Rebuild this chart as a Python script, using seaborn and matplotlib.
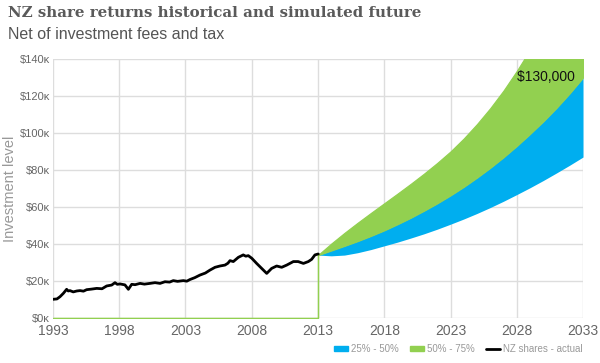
"""NZ share returns: historical line plus simulated future quartile bands."""

import matplotlib
matplotlib.use('Agg')
import matplotlib.pyplot as plt
import seaborn as sns
import pandas as pd
from matplotlib.patches import Patch
from matplotlib.lines import Line2D
from matplotlib.ticker import FuncFormatter

sns.set_style('white')
plt.rcParams['font.family'] = ['Liberation Sans', 'DejaVu Sans']

# historical values (fractional year, $k)
hist_years = [1993.0, 1993.3, 1993.53, 1993.78, 1994.03, 1994.15, 1994.28, 1994.53,
              1994.8, 1995.04, 1995.3, 1995.54, 1995.9, 1996.3, 1996.7, 1997.05,
              1997.43, 1997.68, 1997.85, 1998.06, 1998.43, 1998.69, 1998.94, 1999.2,
              1999.57, 1999.9, 2000.32, 2000.7, 2001.08, 2001.45, 2001.8, 2002.08,
              2002.4, 2002.84, 2003.1, 2003.34, 2003.7, 2004.09, 2004.5, 2004.85,
              2005.23, 2005.6, 2005.98, 2006.2, 2006.36, 2006.61, 2006.99, 2007.36,
              2007.55, 2007.74, 2008.0, 2008.37, 2008.75, 2009.13, 2009.5, 2009.88,
              2010.26, 2010.64, 2011.14, 2011.5, 2011.9, 2012.27, 2012.52, 2012.77,
              2013.02]
hist_values = [10.1, 10.3, 11.5, 13.3, 15.5, 14.6, 14.8, 14.1,
               14.6, 14.8, 14.5, 15.3, 15.6, 16.0, 15.8, 17.3,
               17.8, 19.1, 18.2, 18.4, 17.9, 15.5, 18.2, 18.0,
               18.7, 18.3, 18.7, 19.1, 18.7, 19.6, 19.4, 20.2,
               19.8, 20.2, 19.9, 20.8, 21.8, 23.2, 24.3, 25.9,
               27.4, 28.1, 28.6, 29.6, 31.0, 30.5, 32.8, 34.1,
               33.4, 33.7, 32.3, 29.5, 26.8, 24.1, 26.8, 28.1,
               27.4, 28.6, 30.5, 30.5, 29.5, 30.5, 31.7, 34.1,
               34.6]

# simulated percentiles, $k (leading zeros before the simulation starts)
sim_years = [1993, 2013, 2013, 2014, 2015, 2016, 2017, 2018, 2019, 2020, 2021,
             2022, 2023, 2024, 2025, 2026, 2027, 2028, 2029, 2030, 2031, 2032, 2033]
p25 = [0, 0, 34, 33.6, 34, 35.3, 37, 39, 41, 43.2, 45.5,
       48, 50.7, 53.5, 56.5, 59.7, 63.1, 66.7, 70.4, 74.3, 78.4, 82.6, 87]
p50 = [0, 0, 34, 36.5, 39, 41.6, 44.4, 47.4, 50.7, 54.2, 58,
       62, 66.3, 70.9, 75.9, 81.2, 86.9, 93, 99.5, 106.3, 113.6, 121.5, 130]
p75 = [0, 0, 34, 40.2, 46, 51.5, 56.8, 62, 67.2, 72.5, 78,
       83.8, 90, 97, 104.8, 113.4, 122.9, 133.5, 145, 157, 169.5, 182.5, 196]

x_ticks = [1993, 1998, 2003, 2008, 2013, 2018, 2023, 2028, 2033]
y_ticks = [0, 20, 40, 60, 80, 100, 120, 140]

BLUE = '#00aeef'
GREEN = '#92d050'
GREY = '#666666'

hist = pd.DataFrame({'year': hist_years, 'value': [v * 1000 for v in hist_values]})
sim = pd.DataFrame({'year': sim_years,
                    'p25': [v * 1000 for v in p25],
                    'p50': [v * 1000 for v in p50],
                    'p75': [v * 1000 for v in p75]})

fig = plt.figure(figsize=(6.0, 3.63), dpi=100)
ax = fig.add_axes([0.0883, 0.124, 0.8834, 0.7135])

ax.fill_between(sim['year'], sim['p25'], sim['p50'], color=BLUE, lw=0, zorder=2)
ax.fill_between(sim['year'], sim['p50'], sim['p75'], color=GREEN, lw=0.9,
                edgecolor=GREEN, zorder=2)
sns.lineplot(data=hist, x='year', y='value', color='black', lw=2.0,
             sort=False, estimator=None, ax=ax, zorder=3)

ax.text(2033, sim['p50'].iloc[-1], '${:,.0f}'.format(sim['p50'].iloc[-1]) + '  ',
        ha='right', va='center', fontsize=10, color='#111111', zorder=4)

ax.set_xlim(x_ticks[0], x_ticks[-1])
ax.set_ylim(0, y_ticks[-1] * 1000)
ax.set_xticks(x_ticks)
ax.set_yticks([t * 1000 for t in y_ticks])
ax.yaxis.set_major_formatter(FuncFormatter(lambda v, p: '${:.0f}\u1d0b'.format(v / 1000)))
ax.grid(True, color='#dddddd', lw=1.0, zorder=0)
ax.set_axisbelow(True)
for s in ax.spines.values():
    s.set_visible(False)
ax.tick_params(axis='x', colors=GREY, labelsize=10, length=0, pad=4)
ax.tick_params(axis='y', colors=GREY, labelsize=8, length=0, pad=2)
ax.set_xlabel('')
ax.set_ylabel('Investment level', color='#999999', fontsize=10.5, labelpad=2)

fig.text(0.013, 0.965, 'NZ share returns historical and simulated future',
         family='DejaVu Serif', weight='bold', fontsize=10.8, color='#5a5a5a',
         ha='left', va='center')
fig.text(0.013, 0.905, 'Net of investment fees and tax', fontsize=11.5,
         color='#555555', ha='left', va='center')

handles = [Patch(color=BLUE, label='25% - 50%'),
           Patch(color=GREEN, label='50% - 75%'),
           Line2D([], [], color='black', lw=2, label='NZ shares - actual')]
fig.legend(handles=handles, loc='lower right', bbox_to_anchor=(0.985, 0.0), ncol=3,
           frameon=False, fontsize=7, labelcolor='#999999', handlelength=1.4,
           handleheight=0.4, handletextpad=0.3, columnspacing=1.2)

fig.savefig('out.png', dpi=100)
